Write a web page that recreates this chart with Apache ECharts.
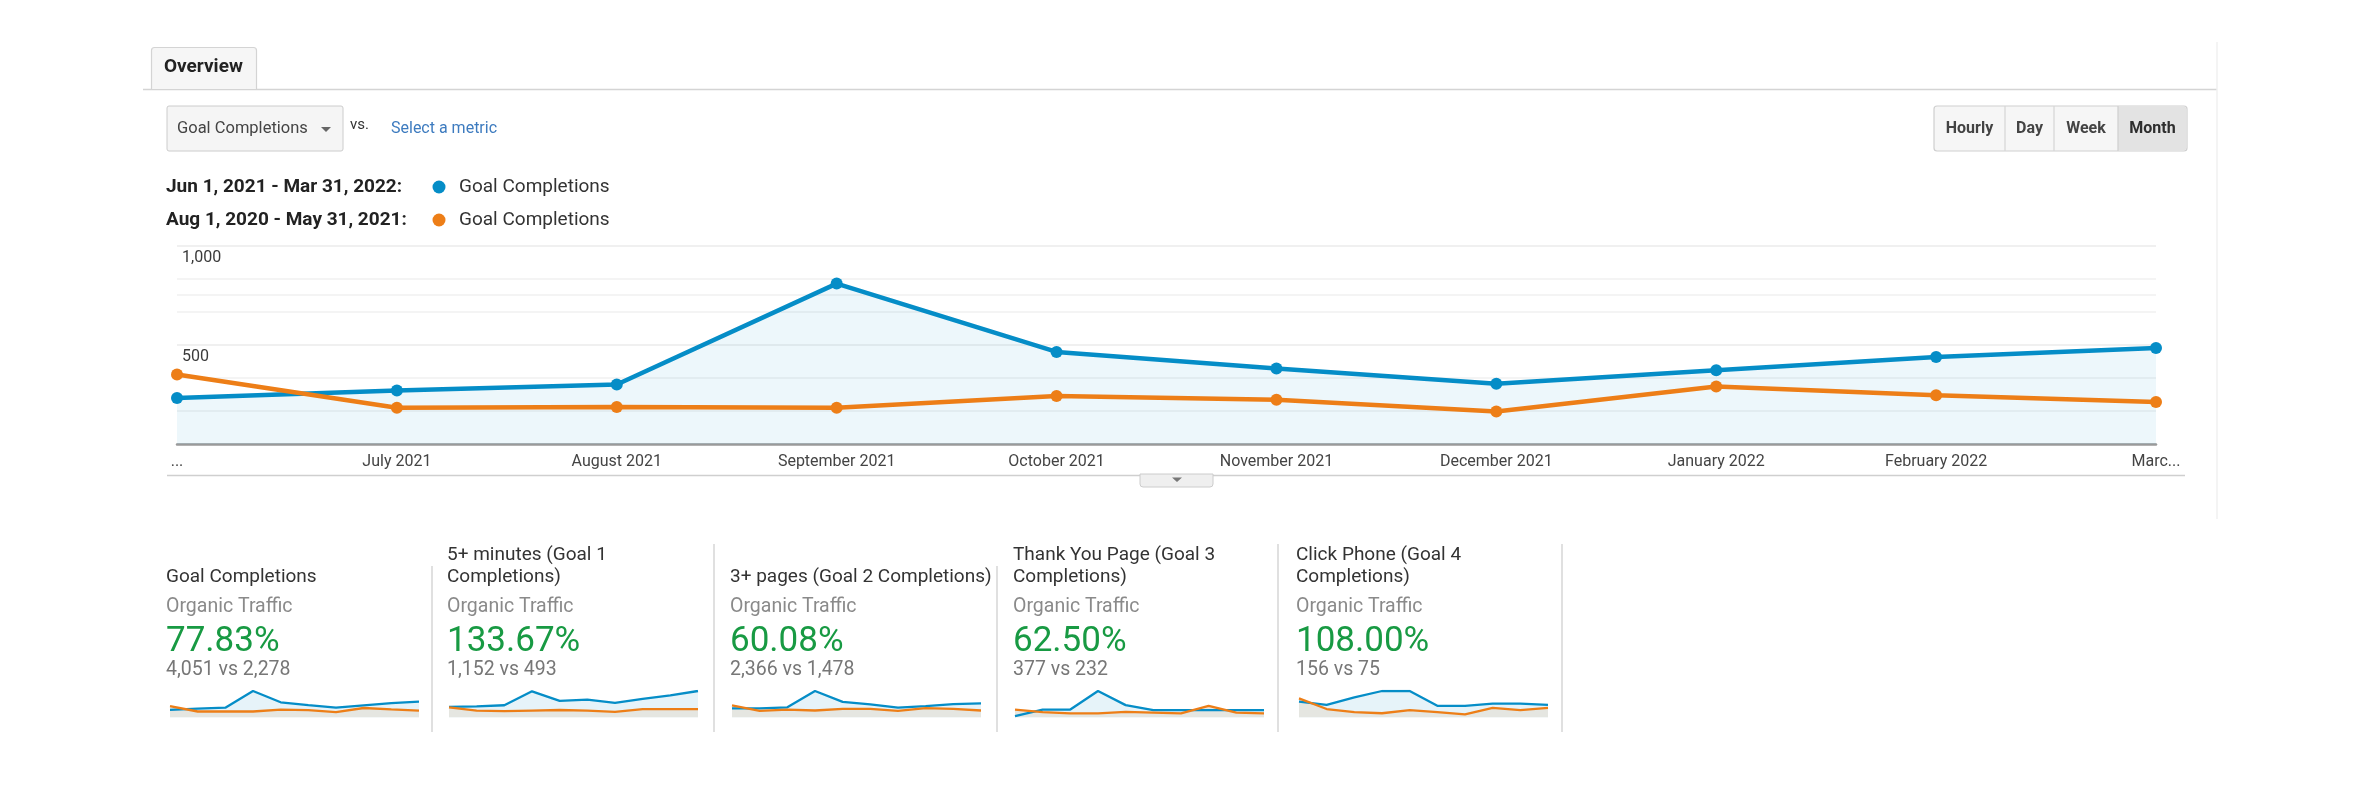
<!DOCTYPE html>
<html>
<head>
<meta charset="utf-8">
<script src="https://cdn.jsdelivr.net/npm/echarts@6/dist/echarts.min.js"></script>
<style>
html,body{margin:0;padding:0;background:#fff;}
#chart{width:2360px;height:800px;}
</style>
</head>
<body>
<div id="chart"></div>
<script>
// ---- data ----
const months = ['...', 'July 2021', 'August 2021', 'September 2021', 'October 2021', 'November 2021', 'December 2021', 'January 2022', 'February 2022', 'Marc...'];
const goalCurrent  = [232, 270, 300, 808, 464, 380, 304, 371, 438, 484];
const goalPrevious = [350, 183, 186, 183, 242, 223, 164, 290, 245, 212];
const goal1Current  = [69, 72, 80, 171, 108, 117, 95, 122, 145, 173];
const goal1Previous = [66, 45, 41, 45, 49, 45, 37, 55, 55, 55];
const goal2Current  = [164, 164, 181, 473, 280, 234, 175, 204, 240, 251];
const goal2Previous = [218, 120, 142, 125, 153, 153, 120, 169, 153, 125];
const goal3Current  = [6, 32, 32, 107, 50, 30, 30, 30, 30, 30];
const goal3Previous = [32, 22, 17, 17, 23, 20, 17, 47, 20, 17];
const goal4Current  = [15, 12, 19, 25, 25, 11, 11, 13, 13, 12];
const goal4Previous = [18, 8, 5, 4, 7, 5, 3, 9, 7, 9];
const yTicks = [0, 500, 1000];
const rangeCurrent = 'Jun 1, 2021 - Mar 31, 2022:';
const rangePrevious = 'Aug 1, 2020 - May 31, 2021:';
const metricName = 'Goal Completions';
const cardTitles = [['Goal Completions'], ['5+ minutes (Goal 1', 'Completions)'], ['3+ pages (Goal 2 Completions)'], ['Thank You Page (Goal 3', 'Completions)'], ['Click Phone (Goal 4', 'Completions)']];
const cardSegment = 'Organic Traffic';
const cardTotalsCurrent  = [4051, 1152, 2366, 377, 156];
const cardTotalsPrevious = [2278, 493, 1478, 232, 75];
const sparkCurrent  = [goalCurrent, goal1Current, goal2Current, goal3Current, goal4Current];
const sparkPrevious = [goalPrevious, goal1Previous, goal2Previous, goal3Previous, goal4Previous];
const buttons = ['Hourly', 'Day', 'Week', 'Month'];

// ---- style ----
const BLUE = '#058dc7', ORANGE = '#ed7e17', FONT = 'Roboto, "Noto Sans", sans-serif';
const fmt = v => v.toLocaleString('en-US');

const chart = echarts.init(document.getElementById('chart'), null, {renderer: 'canvas'});

const cardX = [166, 447, 730, 1013, 1296];
const sparkX = [170, 449, 732, 1015, 1299];
const sparkW = 249;

const grids = [{left: 177, right: 204, top: 245.5, bottom: 356}];
const xAxes = [{
  type: 'category', data: months, boundaryGap: false, gridIndex: 0,
  axisLine: {lineStyle: {color: '#9a9a9a', width: 2.5}},
  axisTick: {show: false},
  axisLabel: {color: '#444', fontSize: 16, fontFamily: FONT, margin: 10, interval: 0},
  splitLine: {show: false}
}];
const yAxes = [{
  type: 'value', min: yTicks[0], max: yTicks[2], interval: yTicks[1] - yTicks[0], gridIndex: 0,
  axisLine: {show: false}, axisTick: {show: false},
  axisLabel: {inside: true, showMinLabel: false, margin: 5, verticalAlign: 'top', padding: [4, 0, 0, 0],
    color: '#3a3a3a', fontSize: 16, fontFamily: FONT, formatter: v => fmt(v)},
  splitLine: {lineStyle: {color: '#ebebeb', width: 1.5}},
  minorTick: {show: false, splitNumber: 3},
  minorSplitLine: {show: true, lineStyle: {color: '#f1f1f1', width: 1.5}}
}];
const series = [
  {
    name: rangeCurrent, type: 'line', data: goalCurrent, xAxisIndex: 0, yAxisIndex: 0,
    symbol: 'circle', symbolSize: 12, showSymbol: true,
    lineStyle: {color: BLUE, width: 4.5}, itemStyle: {color: BLUE},
    areaStyle: {color: 'rgba(5,141,199,0.1)'}, silent: true, z: 2
  },
  {
    name: rangePrevious, type: 'line', data: goalPrevious, xAxisIndex: 0, yAxisIndex: 0,
    symbol: 'circle', symbolSize: 12, showSymbol: true,
    lineStyle: {color: ORANGE, width: 4.5}, itemStyle: {color: ORANGE}, silent: true, z: 3,
    markLine: {silent: true, symbol: 'none', label: {show: false},
      lineStyle: {color: '#f1f1f1', type: 'solid', width: 1.5}, data: [{yAxis: 753}], z: 1}
  }
];

for (let i = 0; i < 5; i++) {
  const gi = i + 1;
  grids.push({left: sparkX[i], width: sparkW, top: 691, height: 26.5});
  xAxes.push({type: 'category', data: months, boundaryGap: false, gridIndex: gi, show: false});
  yAxes.push({type: 'value', min: 0, max: 'dataMax', gridIndex: gi, show: false, splitLine: {show: false}});
  const base = {type: 'line', xAxisIndex: gi, yAxisIndex: gi, symbol: 'none', silent: true, animation: false};
  series.push(Object.assign({}, base, {data: sparkCurrent[i], lineStyle: {width: 0, opacity: 0}, areaStyle: {color: 'rgba(5,141,199,0.1)', opacity: 1}, z: 1}));
  series.push(Object.assign({}, base, {data: sparkPrevious[i], lineStyle: {width: 0, opacity: 0}, areaStyle: {color: '#e5e6e1', opacity: 1}, z: 2}));
  series.push(Object.assign({}, base, {data: sparkCurrent[i], lineStyle: {color: BLUE, width: 2.3}, z: 3}));
  series.push(Object.assign({}, base, {data: sparkPrevious[i], lineStyle: {color: ORANGE, width: 2.3}, z: 4}));
}

// ---- page furniture ----
const g = [];
const txt = (x, y, text, font, fill, align) => g.push({type: 'text', x, y, silent: true,
  style: {text, font, fill, textAlign: align || 'left', textVerticalAlign: 'middle'}});
const line = (x1, y1, x2, y2, stroke, w) => g.push({type: 'line', silent: true,
  shape: {x1, y1, x2, y2}, style: {stroke, lineWidth: w || 1}});

// tab bar
line(143, 89.5, 2217, 89.5, '#d4d4d4', 1.5);
line(2217, 42, 2217, 519, '#f0f0f0', 1.5);
g.push({type: 'rect', silent: true, shape: {x: 151.5, y: 47.5, width: 105, height: 42, r: [3, 3, 0, 0]},
  style: {fill: '#f6f6f6', stroke: '#d4d4d4', lineWidth: 1.2}});
txt(164, 67, 'Overview', 'bold 19px ' + FONT, '#222');

// metric dropdown
g.push({type: 'rect', silent: true, shape: {x: 167, y: 106, width: 176, height: 45, r: 2},
  style: {fill: '#f5f5f5', stroke: '#cccccc', lineWidth: 1}});
txt(177, 129, metricName, '16.5px ' + FONT, '#444');
g.push({type: 'polygon', silent: true, shape: {points: [[321, 127], [331, 127], [326, 132]]}, style: {fill: '#666'}});
txt(350, 125, 'vs.', '15px ' + FONT, '#333');
txt(391, 129, 'Select a metric', '16px ' + FONT, '#3d7bbf');

// granularity buttons
g.push({type: 'rect', silent: true, shape: {x: 1934, y: 106, width: 253, height: 45, r: 3},
  style: {fill: '#f6f6f6', stroke: '#cfcfcf', lineWidth: 1.2}});
g.push({type: 'rect', silent: true, shape: {x: 2118, y: 106.6, width: 68.4, height: 43.8, r: [0, 3, 3, 0]},
  style: {fill: '#e3e3e3'}});
line(2005, 106, 2005, 151, '#d6d6d6', 1.2);
line(2054, 106, 2054, 151, '#d6d6d6', 1.2);
line(2118, 106, 2118, 151, '#cfcfcf', 1.2);
const btnCx = [1969.5, 2029.5, 2086, 2152.5];
buttons.forEach((b, i) => txt(btnCx[i], 129, b, 'bold 16px ' + FONT, i === 3 ? '#2e2e2e' : '#444', 'center'));

// legend
txt(166, 187, rangeCurrent, 'bold 19px ' + FONT, '#222');
txt(166, 220, rangePrevious, 'bold 19px ' + FONT, '#222');
g.push({type: 'circle', silent: true, shape: {cx: 439, cy: 187, r: 6.5}, style: {fill: BLUE}});
g.push({type: 'circle', silent: true, shape: {cx: 439, cy: 220, r: 6.5}, style: {fill: ORANGE}});
txt(459, 187, metricName, '19px ' + FONT, '#333');
txt(459, 220, metricName, '19px ' + FONT, '#333');

// bottom of chart with handle
line(167, 475.5, 2185, 475.5, '#cfcfcf', 1.5);
g.push({type: 'rect', silent: true, shape: {x: 1140, y: 474, width: 73, height: 13, r: [0, 0, 3, 3]},
  style: {fill: '#efefef', stroke: '#cccccc', lineWidth: 1}});
g.push({type: 'polygon', silent: true, shape: {points: [[1172, 477.5], [1182, 477.5], [1177, 482]]}, style: {fill: '#777'}});

// scorecards
const sepX = [432, 714, 997, 1278, 1562];
const sepTop = [566, 544, 566, 544, 544];
sepX.forEach((x, i) => line(x, sepTop[i], x, 732, '#cccccc', 1.2));
for (let i = 0; i < 5; i++) {
  const t = cardTitles[i];
  if (t.length === 1) txt(cardX[i], 577, t[0], '19px ' + FONT, '#333');
  else { txt(cardX[i], 555, t[0], '19px ' + FONT, '#333'); txt(cardX[i], 577, t[1], '19px ' + FONT, '#333'); }
  txt(cardX[i], 607, cardSegment, '19.5px ' + FONT, '#8a8a8a');
  const pct = ((cardTotalsCurrent[i] - cardTotalsPrevious[i]) / cardTotalsPrevious[i] * 100).toFixed(2) + '%';
  txt(cardX[i], 642, pct, '35px ' + FONT, '#189a43');
  txt(cardX[i], 670, fmt(cardTotalsCurrent[i]) + ' vs ' + fmt(cardTotalsPrevious[i]), '19.5px ' + FONT, '#777');
}

chart.setOption({
  animation: false,
  backgroundColor: '#ffffff',
  textStyle: {fontFamily: FONT},
  grid: grids, xAxis: xAxes, yAxis: yAxes, series: series,
  graphic: {elements: g}
});
</script>
</body>
</html>
